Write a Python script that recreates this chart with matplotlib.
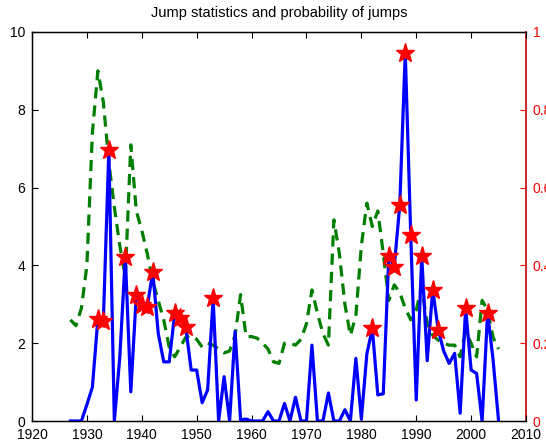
import numpy as np
import matplotlib
matplotlib.use('Agg')
import matplotlib.pyplot as plt

plt.rcParams['font.family'] = ['Liberation Sans', 'DejaVu Sans']

years = np.arange(1927, 2006)

# jump statistic (left axis)
jump_stat = [0.0, 0.0, 0.0, 0.42, 0.87, 2.62, 2.58, 6.97, 0.0, 1.65,
             4.22, 0.75, 3.24, 2.98, 2.94, 3.84, 2.25, 1.52, 1.52, 2.77,
             2.64, 2.42, 1.31, 1.31, 0.47, 0.80, 3.15, 0.0, 1.14, 0.0,
             2.30, 0.03, 0.05, 0.0, 0.0, 0.0, 0.24, 0.0, 0.0, 0.45,
             0.0, 0.61, 0.0, 0.0, 1.95, 0.0, 0.0, 0.72, 0.0, 0.0,
             0.29, 0.0, 1.61, 0.05, 1.72, 2.38, 0.67, 0.70, 4.24, 3.97,
             5.55, 9.47, 4.78, 0.54, 4.24, 1.55, 3.38, 2.35, 1.80, 1.48,
             1.74, 0.20, 2.90, 1.31, 1.22, 0.0, 2.78, 1.57, 0.0]

# probability of a jump (right axis)
jump_prob = [0.26, 0.245, 0.29, 0.40, 0.74, 0.90, 0.82, 0.665, 0.55, 0.45,
             0.37, 0.71, 0.54, 0.49, 0.43, 0.36, 0.31, 0.26, 0.19, 0.165,
             0.19, 0.215, 0.22, 0.21, 0.19, 0.20, 0.195, 0.185, 0.175, 0.18,
             0.22, 0.325, 0.217, 0.217, 0.213, 0.20, 0.185, 0.152, 0.148, 0.20,
             0.20, 0.195, 0.21, 0.25, 0.337, 0.277, 0.225, 0.195, 0.517, 0.43,
             0.30, 0.22, 0.27, 0.45, 0.56, 0.50, 0.54, 0.43, 0.31, 0.35,
             0.33, 0.29, 0.26, 0.285, 0.345, 0.25, 0.22, 0.208, 0.20, 0.195,
             0.195, 0.165, 0.23, 0.20, 0.165, 0.31, 0.285, 0.215, 0.185]

# years flagged as jumps
jump_years = [1932, 1933, 1934, 1937, 1939, 1940, 1941, 1942, 1946, 1947,
              1948, 1953, 1982, 1985, 1986, 1987, 1988, 1989, 1991, 1993,
              1994, 1999, 2003]

jump_stat = np.array(jump_stat)
jump_prob = np.array(jump_prob)
is_jump = np.isin(years, jump_years)

fig = plt.figure(figsize=(5.46, 4.44), dpi=100)
ax = fig.add_axes([0.0586, 0.0518, 0.9048, 0.8762])
ax2 = ax.twinx()

ax.plot(years, jump_stat, '-', color='#0000ff', lw=2.3, zorder=3)
ax.plot(years[is_jump], jump_stat[is_jump], '*', color='red', ms=14,
        mec='red', zorder=4)
ax2.plot(years, jump_prob, '--', color='#007f00', lw=2.3, dashes=(3.5, 2.2))

ax.set_xlim(1920, 2010)
ax.set_ylim(0, 10)
ax2.set_ylim(0, 1)
ax.set_xticks(np.arange(1920, 2011, 10))
ax.set_yticks(np.arange(0, 11, 2))
ax2.set_yticks(np.arange(0, 1.01, 0.2))
ax2.set_yticklabels(['0', '0.2', '0.4', '0.6', '0.8', '1'])

# keep the line axes above the dashed one
ax.set_zorder(ax2.get_zorder() + 1)
ax.patch.set_visible(False)

ax.tick_params(axis='x', direction='in', top=True, labelsize=10, length=4,
               pad=5)
ax.tick_params(axis='y', direction='in', right=False, labelsize=10, length=4,
               pad=5)
ax2.tick_params(axis='y', direction='in', colors='red', labelsize=10,
                length=4, pad=5)
ax2.spines['right'].set_color('#c00000')
ax2.spines['right'].set_linewidth(1.2)
ax.spines['right'].set_visible(False)
for sp in ['left', 'bottom', 'top']:
    ax.spines[sp].set_linewidth(1.0)

ax.set_title('Jump statistics and probability of jumps', fontsize=10.5, pad=11)

plt.savefig('out.png', dpi=100)
